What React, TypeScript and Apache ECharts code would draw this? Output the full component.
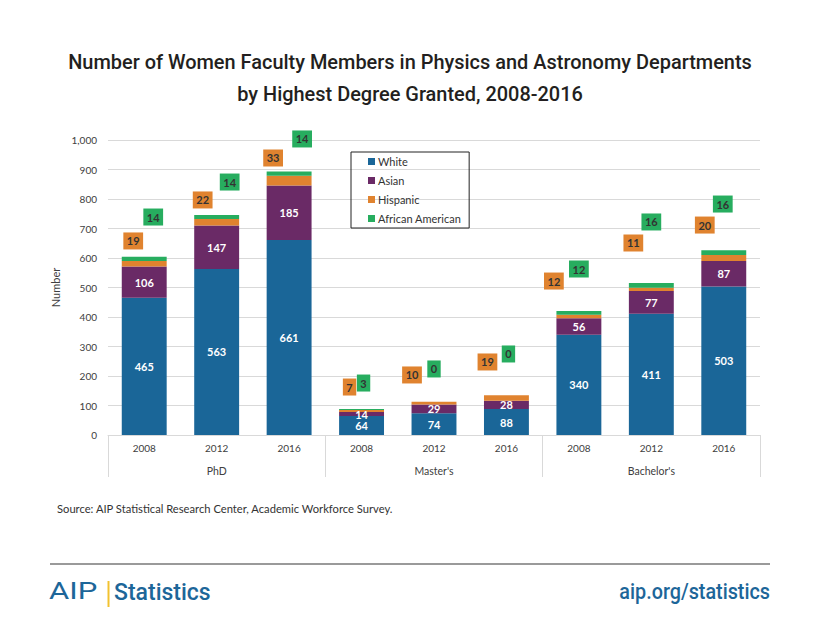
import React, { useEffect, useRef } from "react";
import * as echarts from "echarts";

const categories = ["2008", "2012", "2016", "2008", "2012", "2016", "2008", "2012", "2016"];
const groups = ["PhD", "Master's", "Bachelor's"];
const white = [465, 563, 661, 64, 74, 88, 340, 411, 503];
const asian = [106, 147, 185, 14, 29, 28, 56, 77, 87];
const hispanic = [19, 22, 33, 7, 10, 19, 12, 11, 20];
const africanAmerican = [14, 14, 14, 3, 0, 0, 12, 16, 16];

// label placement (pixel offsets from each segment's top), as in the original chart
const hispanicLabelOffsets = [
  [-11, -11.5], [-14, -10.6], [-16, -9.2],
  [-12, -14.4], [-22, -18.2], [-19, -24.7],
  [-25, -25.1], [-18, -36.3], [-19, -21.5],
];
const aaLabelOffsets = [
  [9, -31.3], [13, -24.4], [13, -24.1],
  [2, -17.5], [0, -24.2], [2, -32.7],
  [0, -33.6], [0, -52.6], [-1, -37.8],
];

const COLORS = {
  white: "#1a6698",
  asian: "#6a2a66",
  hispanic: "#e0832f",
  aa: "#27ad5f",
};
const FONT = "Lato, 'Open Sans', sans-serif";

export default function App() {
  const ref = useRef<HTMLDivElement>(null);
  useEffect(() => {
    if (!ref.current) return;
    const chart = echarts.init(ref.current, undefined, { renderer: "svg" });
    const boxLabel = (bg: string) => ({
      show: true,
      position: "top" as const,
      distance: 0,
      backgroundColor: bg,
      color: "#333",
      fontWeight: "bold" as const,
      fontSize: 11,
      lineHeight: 13,
      padding: [2, 3.5, 2, 3.5],
      fontFamily: FONT,
    });
    const innerLabel = {
      show: true,
      position: "inside" as const,
      color: "#fff",
      fontWeight: "bold" as const,
      fontSize: 11,
      fontFamily: FONT,
    };
    chart.setOption({
      animation: false,
      textStyle: { fontFamily: FONT },
      grid: { left: 108, right: 60, top: 140, bottom: 208, containLabel: false },
      legend: {
        data: ["White", "Asian", "Hispanic", "African American"],
        orient: "vertical",
        left: 351,
        top: 152,
        icon: "rect",
        itemWidth: 7,
        itemHeight: 7,
        itemGap: 8,
        borderColor: "#222",
        borderWidth: 1,
        padding: [4, 8, 4, 17],
        textStyle: { fontSize: 11, color: "#333", fontFamily: FONT, padding: [0, 0, 0, -2] },
      },
      xAxis: [
        {
          type: "category",
          data: categories,
          position: "bottom",
          axisLine: { show: true, lineStyle: { color: "#d9d9d9" } },
          axisTick: { show: false },
          axisLabel: { margin: 8, fontSize: 10, color: "#404040", fontFamily: FONT },
        },
        {
          type: "category",
          data: groups,
          position: "bottom",
          axisLine: { show: false },
          axisTick: { show: true, length: 42, lineStyle: { color: "#d9d9d9" } },
          axisLabel: { margin: 30, fontSize: 10.5, color: "#404040", fontFamily: FONT },
        },
      ],
      yAxis: {
        type: "value",
        min: 0,
        max: 1000,
        interval: 100,
        name: "Number",
        nameLocation: "middle",
        nameGap: 37,
        nameTextStyle: { fontSize: 11, color: "#404040", fontFamily: FONT },
        axisLine: { show: false },
        axisTick: { show: false },
        axisLabel: {
          margin: 11,
          fontSize: 10,
          color: "#404040",
          fontFamily: FONT,
          formatter: (v: number) => v.toLocaleString("en-US"),
        },
        splitLine: { lineStyle: { color: "#d9d9d9" } },
      },
      series: [
        {
          name: "White",
          type: "bar",
          stack: "total",
          barCategoryGap: "38%",
          itemStyle: { color: COLORS.white },
          label: innerLabel,
          data: white,
        },
        {
          name: "Asian",
          type: "bar",
          stack: "total",
          itemStyle: { color: COLORS.asian },
          label: innerLabel,
          data: asian,
        },
        {
          name: "Hispanic",
          type: "bar",
          stack: "total",
          itemStyle: { color: COLORS.hispanic },
          label: boxLabel(COLORS.hispanic),
          data: hispanic.map((v, i) => ({ value: v, label: { offset: hispanicLabelOffsets[i] } })),
        },
        {
          name: "African American",
          type: "bar",
          stack: "total",
          itemStyle: { color: COLORS.aa },
          label: boxLabel(COLORS.aa),
          data: africanAmerican.map((v, i) => ({ value: v, label: { offset: aaLabelOffsets[i] } })),
        },
      ],
      graphic: [
        {
          type: "text",
          x: 410,
          y: 62,
          scaleX: 0.95,
          style: {
            text: "Number of Women Faculty Members in Physics and Astronomy Departments",
            fontSize: 21,
            fontWeight: 500,
            fontFamily: "Roboto, sans-serif",
            fill: "#231f20",
            align: "center",
            verticalAlign: "middle",
          },
        },
        {
          type: "text",
          x: 410,
          y: 94,
          scaleX: 0.95,
          style: {
            text: "by Highest Degree Granted, 2008-2016",
            fontSize: 21,
            fontWeight: 500,
            fontFamily: "Roboto, sans-serif",
            fill: "#231f20",
            align: "center",
            verticalAlign: "middle",
          },
        },
        {
          type: "text",
          x: 57,
          y: 508,
          style: {
            text: "Source: AIP Statistical Research Center, Academic Workforce Survey.",
            fontSize: 11.2,
            fontFamily: FONT,
            fill: "#333",
            align: "left",
            verticalAlign: "middle",
          },
        },
        {
          type: "line",
          shape: { x1: 50, y1: 564, x2: 770, y2: 564 },
          style: { stroke: "#9a9a9a", lineWidth: 2 },
        },
        {
          type: "text",
          x: 49,
          y: 591,
          scaleX: 1.35,
          style: {
            text: "AIP",
            fontSize: 23,
            fontFamily: "Roboto, sans-serif",
            fill: "#1d6699",
            align: "left",
            verticalAlign: "middle",
          },
        },
        {
          type: "rect",
          shape: { x: 107.5, y: 581, width: 2, height: 26 },
          style: { fill: "#f2c230" },
        },
        {
          type: "text",
          x: 114,
          y: 592,
          style: {
            text: "Statistics",
            fontSize: 23,
            fontWeight: 500,
            fontFamily: "Roboto, sans-serif",
            fill: "#1d6699",
            align: "left",
            verticalAlign: "middle",
          },
        },
        {
          type: "text",
          x: 770,
          y: 592,
          scaleX: 0.9,
          style: {
            text: "aip.org/statistics",
            fontSize: 22,
            fontWeight: 500,
            fontFamily: "Roboto, sans-serif",
            fill: "#1d6699",
            align: "right",
            verticalAlign: "middle",
          },
        },
      ],
    });
    return () => chart.dispose();
  }, []);
  return (
    <div
      ref={ref}
      style={{ position: "fixed", left: 0, top: 0, width: 820, height: 643, background: "#fff" }}
    />
  );
}
